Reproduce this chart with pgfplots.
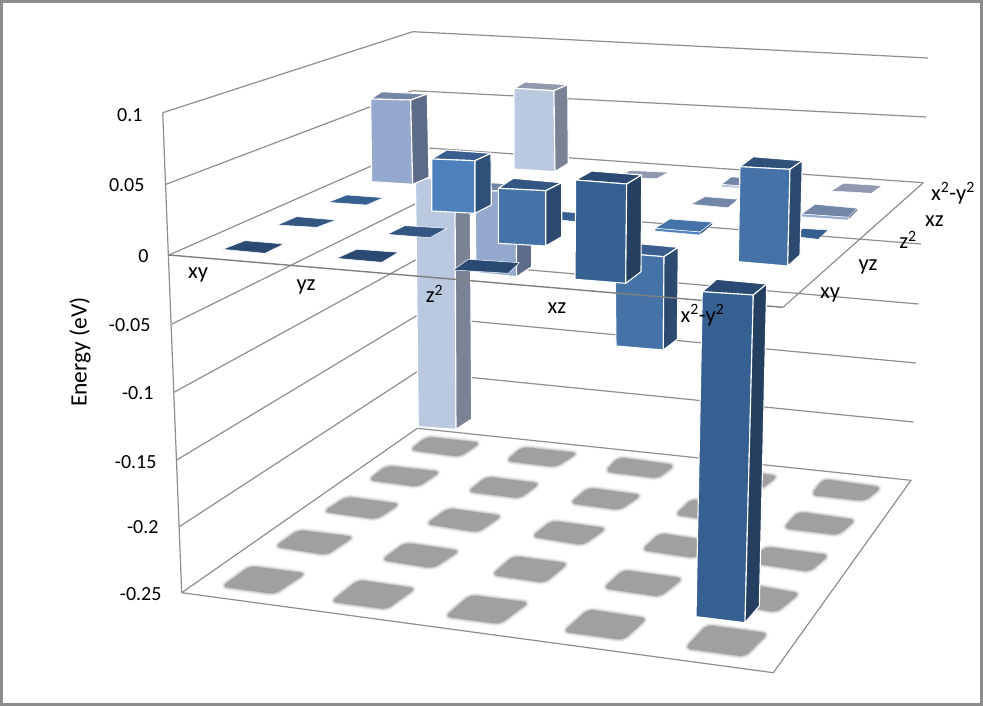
\documentclass[border=0pt]{standalone}
\usepackage{pgfplots}
\pgfplotsset{compat=1.18}
\usepackage{fontspec}
\setmainfont{Carlito}

\definecolor{frame}{HTML}{8C8C8C}
\definecolor{wall}{HTML}{8E8E8E}
\definecolor{axisln}{HTML}{7F7F7F}
\definecolor{sh}{HTML}{A0A0A0}
\definecolor{peri}{HTML}{95A9CF}
\definecolor{peritop}{HTML}{7486A8}
\definecolor{periside}{HTML}{5C6B87}
\definecolor{pale}{HTML}{BAC8E0}
\definecolor{paletop}{HTML}{9099AF}
\definecolor{paleside}{HTML}{7B8296}
\definecolor{blueA}{HTML}{4F81BD}
\definecolor{blueAtop}{HTML}{3A5F8F}
\definecolor{blueAside}{HTML}{2F5078}
\definecolor{blueB}{HTML}{4573A7}
\definecolor{blueBtop}{HTML}{335682}
\definecolor{blueBside}{HTML}{2C4A70}
\definecolor{blueC}{HTML}{376092}
\definecolor{blueCtop}{HTML}{2A4A73}
\definecolor{blueCside}{HTML}{243F60}

% one filled face of a bar, corners in picture pixels
\newcommand{\face}[2]{\addplot[fill=#1,draw=white,line width=1.1pt,line join=round] coordinates {#2} -- cycle;}
\newcommand{\tile}[2]{\addplot[fill=#1,draw=white,line width=.5pt,line join=round] coordinates {#2} -- cycle;}
% soft grey shadow on the floor
\newcommand{\shad}[1]{%
  \addplot[draw=sh,draw opacity=.12,line width=6pt,rounded corners=6pt] coordinates {#1} -- cycle;
  \addplot[draw=sh,draw opacity=.2,line width=4pt,rounded corners=6pt] coordinates {#1} -- cycle;
  \addplot[fill=sh,draw=sh,draw opacity=.4,line width=2pt,rounded corners=6pt] coordinates {#1} -- cycle;}
\newcommand{\wline}[1]{\addplot[draw=wall,line width=1.2pt] coordinates {#1};}

\begin{document}
\begin{tikzpicture}
\begin{axis}[
  scale only axis,
  width=983pt,height=706pt,
  xmin=0,xmax=983,ymin=0,ymax=706,
  y dir=reverse,
  hide axis,
  clip=true,
  every axis plot/.append style={no markers}
]
% chart frame
\addplot[draw=frame,line width=3pt] coordinates {(1.5,1.2) (981.5,1.2) (981.5,704.5) (1.5,704.5)} -- cycle;

% left wall
\wline{(162.7,112.7) (412.7,31.7)}
\wline{(166,184.3) (412.7,90.7)}
\wline{(169,255) (414.5,147)}
\wline{(172,324) (415,204)}
\wline{(174.5,392) (415.5,260)}
\wline{(176.7,460) (416,316)}
\wline{(179.3,526.7) (416.7,372)}
\wline{(162.7,112.7) (181.7,592.7)}
% back wall
\wline{(412.7,31.7) (928,58)}
\wline{(412.7,90.7) (926,117)}
\wline{(414.5,147) (923.3,182.7)}
\wline{(415,204) (921,244)}
\wline{(415.5,260) (918.5,304)}
\wline{(416,316) (916,363)}
\wline{(416.7,372) (913.5,422)}
% floor
\wline{(181.7,592.7) (417.3,428.3) (911,480.3) (773.3,672.7) (181.7,592.7)}
% right edge of the zero plane
\wline{(783,307.3) (923.3,182.7)}

% floor shadows, back row to front row
\shad{(410,450) (426.7,436.7) (480.7,442.7) (460,456.7)}
\shad{(506,461) (522,447) (578,453) (556,467)}
\shad{(605,471.7) (618.3,457.3) (675,465) (658.3,478.3)}
\shad{(706,483) (720,468) (778,476) (760,490)}
\shad{(811,495) (823.3,479) (881.7,487.3) (865,501)}
\shad{(368.3,480) (386.7,465.7) (440.7,471.7) (418.3,486.7)}
\shad{(467.7,491.7) (486.7,476.7) (540,483.3) (520,498.3)}
\shad{(570,503.3) (588.3,487.7) (641.7,495) (620,510)}
\shad{(675,515) (692,499) (748,507) (728,522)}
\shad{(783.3,528.3) (798.3,511.7) (856,520) (838.3,535)}
\shad{(323.3,511.7) (346.7,496.7) (400,504) (376.7,519.3)}
\shad{(426,524) (448.3,508.3) (502.3,515.7) (478.3,532.3)}
\shad{(531.7,536.7) (551.7,520.7) (606.7,528.3) (583,545)}
\shad{(641.7,550) (660,533.3) (718,542) (695,558)}
\shad{(751,563) (765,546.7) (829.3,555) (810,571.7)}
\shad{(275,546.7) (298.3,530) (354,536.7) (326.7,555)}
\shad{(381.7,560) (405,542.7) (460,550.7) (433.3,568.3)}
\shad{(491.7,575) (513.3,556) (568.3,563.3) (545,582.7)}
\shad{(603.3,588.3) (623.3,570) (683.3,578.3) (660,596.7)}
\shad{(722,603) (742,583) (800,593.3) (776.7,612.3)}
\shad{(221.7,586.7) (250,566) (306,573.3) (275,594)}
\shad{(331,601.7) (358.3,580) (416,588.3) (386.7,609.3)}
\shad{(445,616.7) (470,595) (529.3,602.3) (500,624)}
\shad{(563.3,631.7) (588.3,609.3) (647.3,618.3) (623.3,640)}
\shad{(685,648.3) (706.7,625) (768.3,633.3) (745,656.7)}

% flat tiles at the left
\tile{blueCtop}{(222.7,249.3) (245,240.7) (284,244) (265,253.3)}
\tile{blueBtop}{(277.3,225) (296.7,216.7) (336,220) (316.7,227.3)}
\tile{blueC}{(328.3,202.3) (346.7,195) (383.3,197.7) (366.7,205)}
\tile{blueCtop}{(336.7,258.3) (356.7,249.3) (398.3,252.3) (381.7,262.3)}

% z2 column, tall pale bar
\face{pale}{(415.5,178) (455,180) (456,429.3) (418.3,426.7)}
\face{paleside}{(455,180) (470,170) (471.7,419) (456,429.3)}
\tile{blueBtop}{(387.3,234.3) (405,225.7) (446.7,228.3) (430,237.7)}
% back pale bar
\face{paletop}{(514,88.3) (525,82) (567.7,84.7) (554,90.7)}
\face{pale}{(514,88.3) (554,90.7) (555,171.7) (514,169)}
\face{paleside}{(554,90.7) (567.7,84.7) (568.3,163.3) (555,171.7)}
% periwinkle bar at the back left
\face{peritop}{(370.7,99) (381.7,91.7) (427.3,94) (410.7,100)}
\face{peri}{(370.7,99) (410.7,100) (412.7,184.3) (371.7,181.7)}
\face{periside}{(410.7,100) (427.3,94) (429,177.3) (412.7,184.3)}
% periwinkle bar in the middle
\face{peritop}{(475,190) (487,182.5) (531,185) (516,192)}
\face{peri}{(475,190) (516,192) (516.7,276.7) (476,272.5)}
\face{periside}{(516,192) (531,185) (531.7,266.7) (516.7,276.7)}
% small gray tiles at the back
\tile{paletop}{(617,177) (630,170.5) (668.3,172.3) (656.7,178.7)}
\tile{peritop}{(691,204.3) (705,196.7) (738,199.3) (728,207.7)}
\tile{paletop}{(831,191) (843.3,183.3) (881.7,185.7) (871.7,193.3)}
\tile{blueC}{(548,218.7) (558,211.5) (590,213.5) (580,222)}
\tile{peritop}{(721.5,184.5) (731,177) (770,179) (760,187)}
\tile{pale}{(721.5,184.5) (760,187) (760,189.5) (721.5,187)}
\tile{peritop}{(801.7,214) (815,204.3) (857.3,208.3) (848.3,217.3)}
\tile{peri}{(801.7,214) (848.3,217.3) (848.3,220) (801.7,216.7)}
\tile{periside}{(848.3,217.3) (857.3,208.3) (857.3,211) (848.3,220)}
\tile{blueC}{(790,236) (803,228.5) (828.3,230) (818.3,239.3)}
% thin blue tile
\tile{blueB}{(655,228.3) (670,219) (712.7,222.3) (700,232)}
\tile{blueA}{(655,228.3) (700,232) (700,235) (655,231)}
\tile{blueBtop}{(700,232) (712.7,222.3) (712.7,224.5) (700,235)}

% negative blue bar, x2-y2 / xz
\face{blueAtop}{(615,252.7) (632,243) (678.3,247.3) (664,256.7)}
\face{blueB}{(615,252.7) (664,256.7) (663.3,350) (616,346)}
\face{blueBside}{(664,256.7) (678.3,247.3) (677.3,339.3) (663.3,350)}

% front line of the zero plane runs over the bars behind it
\addplot[draw=axisln,line width=1.4pt] coordinates {(169,255) (783,307.3)};

% dark tile under the xz cube
\tile{blueCtop}{(453.3,270) (468.3,259.3) (519.3,262.7) (508.3,273.3)}
% bright cube
\face{blueAtop}{(431.7,159) (446.7,150) (491,153.3) (475,160.7)}
\face{blueA}{(431.7,159) (475,160.7) (475,213.3) (431.7,211)}
\face{blueAside}{(475,160.7) (491,153.3) (491.3,205) (475,213.3)}
% second cube
\face{blueBtop}{(498.3,188.3) (513.3,178.3) (561.7,182.7) (545.7,190.7)}
\face{blueB}{(498.3,188.3) (545.7,190.7) (545.7,246) (498.3,243.3)}
\face{blueBside}{(545.7,190.7) (561.7,182.7) (561.7,236.7) (545.7,246)}
% dark bar in the middle
\face{blueCtop}{(575.7,180) (591.7,171) (641.7,175) (626.7,184)}
\face{blueC}{(575.7,180) (626.7,184) (625.7,283.3) (575,279.3)}
\face{blueCside}{(626.7,184) (641.7,175) (641,271.7) (625.7,283.3)}
% right blue bar
\face{blueAside}{(740,166.7) (753.3,156.7) (802.3,160.7) (790,169.3)}
\face{blueB}{(740,166.7) (790,169.3) (787.7,266) (738.3,261.7)}
\face{blueBside}{(790,169.3) (802.3,160.7) (800,255) (787.7,266)}
% tall front bar
\face{blueCtop}{(702.3,291.7) (716.7,279.3) (766.7,284) (753.3,295)}
\face{blueC}{(702.3,291.7) (753.3,295) (745,622.7) (696,616.7)}
\face{blueCside}{(753.3,295) (766.7,284) (759.3,606) (745,622.7)}

% value axis
\def\fs{\fontsize{20}{24}\selectfont}
\def\fc{\fontsize{22.5}{26}\selectfont}
\node[anchor=east,font=\fs] at (axis cs:146,115) {0.1};
\node[anchor=east,font=\fs] at (axis cs:148,185) {0.05};
\node[anchor=east,font=\fs] at (axis cs:152,256) {0};
\node[anchor=east,font=\fs] at (axis cs:154,325) {-0.05};
\node[anchor=east,font=\fs] at (axis cs:157,393) {-0.1};
\node[anchor=east,font=\fs] at (axis cs:160,462) {-0.15};
\node[anchor=east,font=\fs] at (axis cs:162,527) {-0.2};
\node[anchor=east,font=\fs] at (axis cs:165,594) {-0.25};
\node[rotate=90,font=\fontsize{23.5}{26}\selectfont] at (axis cs:80,352) {Energy (eV)};
% category labels
\node[font=\fc] at (axis cs:198,275) {xy};
\node[font=\fc] at (axis cs:306,287) {yz};
\node[font=\fc] at (axis cs:434.5,294) {z\textsuperscript{2}};
\node[font=\fc] at (axis cs:557,308) {xz};
\node[font=\fc] at (axis cs:702.5,315) {x\textsuperscript{2}-y\textsuperscript{2}};
\node[font=\fc] at (axis cs:830,295) {xy};
\node[font=\fc] at (axis cs:868,267) {yz};
\node[font=\fc] at (axis cs:908,240) {z\textsuperscript{2}};
\node[font=\fc] at (axis cs:934.5,221) {xz};
\node[font=\fc] at (axis cs:953,193) {x\textsuperscript{2}-y\textsuperscript{2}};
\end{axis}
\end{tikzpicture}
\end{document}
